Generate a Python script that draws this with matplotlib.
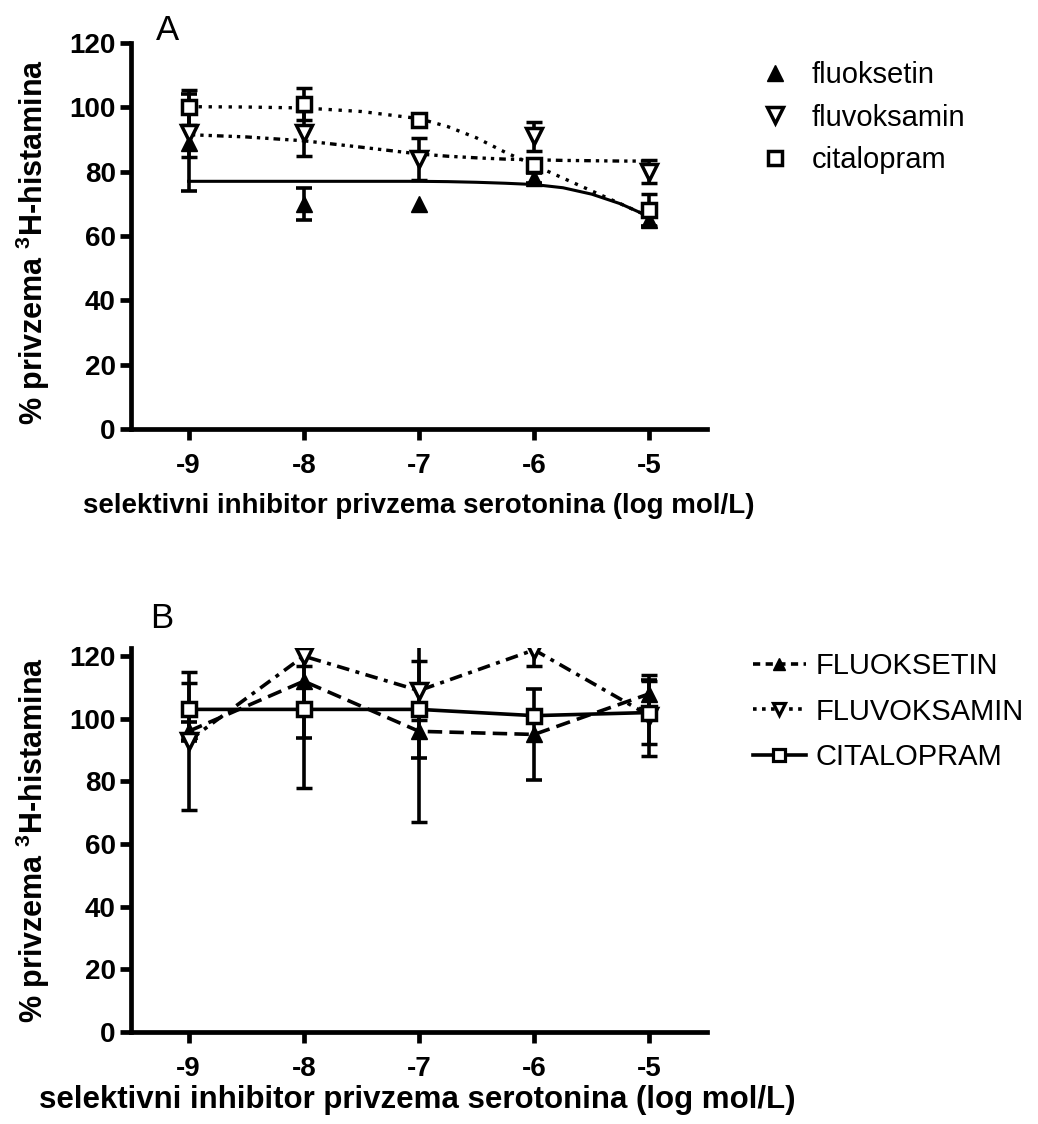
import matplotlib
matplotlib.use("Agg")
import matplotlib.pyplot as plt
from matplotlib.lines import Line2D

plt.rcParams["font.family"] = ["Liberation Sans", "DejaVu Sans"]
plt.rcParams["mathtext.fontset"] = "custom"
plt.rcParams["mathtext.rm"] = "Liberation Sans"
plt.rcParams["mathtext.bf"] = "Liberation Sans:bold"

nan = float("nan")

# log koncentracija
doses = [-9, -8, -7, -6, -5]

# Panel A - tocke (srednja vrijednost, SEM); nan = greska manja od simbola
fluoksetin_a = [89, 70, 70, 78, 65]
fluoksetin_a_err = [15, 5, nan, 1.5, 2]
fluvoksamin_a = [92, 92, 84, 91, 80]
fluvoksamin_a_err = [7.5, 7, 6.5, 4.5, 3.5]
citalopram_a = [100, 101, 96, 82, 68]
citalopram_a_err = [5.5, 5, nan, 2, 5]

# Panel A - krivulje (ocitane sa slike)
fit_x = [-9, -8.5, -8, -7.5, -7, -6.75, -6.5, -6.25, -6, -5.75, -5.5, -5.25, -5]
fit_fluoksetin = [77, 77, 77, 77, 77, 76.9, 76.7, 76.4, 76, 75, 73, 70, 66]
fit_fluvoksamin = [91.5, 90.8, 89.6, 87.6, 85.5, 84.8, 84.3, 83.9, 83.7, 83.5, 83.4, 83.3, 83.3]
fit_citalopram = [100.2, 100.1, 99.8, 98.7, 96.5, 94, 90.5, 86, 82, 78, 74, 70, 66]

# Panel B
fluoksetin_b = [96, 112, 96, 95, 108]
fluoksetin_b_err = [3, 18, 8.5, 14.5, 4.5]
fluvoksamin_b = [93, 120, 109, 122, 101]
fluvoksamin_b_err = [22, 3, 9.5, 5, 13]
citalopram_b = [103, 103, 103, 101, 102]
citalopram_b_err = [8.5, 25, 36, 1.5, 10]

labels_a = ["fluoksetin", "fluvoksamin", "citalopram"]
labels_b = ["FLUOKSETIN", "FLUVOKSAMIN", "CITALOPRAM"]
xlabel = "selektivni inhibitor privzema serotonina (log mol/L)"
ylabel = "% privzema $^{\\mathbf{3}}$H-histamina"

W, H = 1038, 1124
fig = plt.figure(figsize=(W / 100, H / 100), dpi=100)

ax_a = fig.add_axes([131 / W, 1 - 429 / H, 576 / W, 386 / H])
ax_b = fig.add_axes([131 / W, 1 - 1032 / H, 576 / W, 384 / H])

SPINE = 3.4
LW = 2.6
eb = dict(ecolor="black", elinewidth=LW, capsize=6, capthick=LW, linestyle="none", zorder=3)


def style_axis(ax, ytop):
    ax.set_xlim(-9.5, -4.5)
    ax.set_ylim(0, ytop)
    ax.set_xticks(doses)
    ax.set_xticklabels([str(d) for d in doses])
    ax.set_yticks([0, 20, 40, 60, 80, 100, 120])
    for s in ["top", "right"]:
        ax.spines[s].set_visible(False)
    for s in ["left", "bottom"]:
        ax.spines[s].set_linewidth(SPINE)
    ax.tick_params(width=SPINE, length=8, labelsize=20)
    ax.tick_params(axis="x", pad=9)
    ax.tick_params(axis="y", pad=3)
    for t in ax.get_xticklabels() + ax.get_yticklabels():
        t.set_fontweight("bold")


# ---- A ----
ax_a.plot(fit_x, fit_fluoksetin, color="black", lw=2.2, zorder=2)
ax_a.plot(fit_x, fit_fluvoksamin, color="black", lw=2.4, dashes=(2, 1.5, 1, 1.5, 1, 1.5), zorder=2)
ax_a.plot(fit_x, fit_citalopram, color="black", lw=2.4, dashes=(1, 2), zorder=2)

ax_a.errorbar(doses, fluoksetin_a, yerr=fluoksetin_a_err, marker="^", ms=11,
              mfc="black", mec="black", **eb)
ax_a.errorbar(doses, fluvoksamin_a, yerr=fluvoksamin_a_err, marker="v", ms=11,
              mfc="white", mec="black", mew=2.5, **eb)
ax_a.errorbar(doses, citalopram_a, yerr=citalopram_a_err, marker="s", ms=10,
              mfc="white", mec="black", mew=2.5, **eb)
style_axis(ax_a, 120)

handles_a = [
    Line2D([], [], ls="none", marker="^", ms=11, mfc="black", mec="black"),
    Line2D([], [], ls="none", marker="v", ms=11, mfc="white", mec="black", mew=2.5),
    Line2D([], [], ls="none", marker="s", ms=10, mfc="white", mec="black", mew=2.5),
]
fig.legend(handles_a, labels_a, loc="upper left", bbox_to_anchor=(753 / W, 1 - 61 / H),
           frameon=False, fontsize=21, handlelength=1.5, handletextpad=0.5,
           labelspacing=0.5, borderpad=0, borderaxespad=0)

# ---- B ----
ax_b.errorbar(doses, fluoksetin_b, yerr=fluoksetin_b_err, marker="^", ms=11,
              mfc="black", mec="black", **eb)
ax_b.errorbar(doses, fluvoksamin_b, yerr=fluvoksamin_b_err, marker="v", ms=11,
              mfc="white", mec="black", mew=2.5, **eb)
ax_b.errorbar(doses, citalopram_b, yerr=citalopram_b_err, marker="s", ms=10,
              mfc="white", mec="black", mew=2.5, **eb)
ax_b.plot(doses, fluoksetin_b, color="black", lw=LW, dashes=(4, 2), zorder=2)
ax_b.plot(doses, fluvoksamin_b, color="black", lw=LW, dashes=(3.5, 1.8, 1.1, 1.8), zorder=2)
ax_b.plot(doses, citalopram_b, color="black", lw=LW, zorder=2)
style_axis(ax_b, 122.6)

handles_b = [
    Line2D([], [], color="black", lw=LW, dashes=(2, 1.5), marker="^", ms=9, mfc="black"),
    Line2D([], [], color="black", lw=LW, dashes=(1, 1.5), marker="v", ms=9, mfc="white", mew=2.3),
    Line2D([], [], color="black", lw=LW, marker="s", ms=8, mfc="white", mew=2.3),
]
fig.legend(handles_b, labels_b, loc="upper left", bbox_to_anchor=(753 / W, 1 - 652 / H),
           frameon=False, fontsize=21, handlelength=1.8, handletextpad=0.35,
           labelspacing=0.6, borderpad=0, borderaxespad=0)

# ---- tekstovi ----
fig.text(167 / W, 1 - 30 / H, "A", fontsize=25, ha="center", va="center")
fig.text(162 / W, 1 - 618 / H, "B", fontsize=25, ha="center", va="center")
fig.text(419 / W, 1 - 506 / H, xlabel, fontsize=20, fontweight="bold", ha="center", va="center")
fig.text(417 / W, 1 - 1100 / H, xlabel, fontsize=22.5, fontweight="bold", ha="center", va="center")
fig.text(33 / W, 1 - 242 / H, ylabel, fontsize=22, fontweight="bold", rotation=90,
         ha="center", va="center")
fig.text(33 / W, 1 - 840 / H, ylabel, fontsize=22, fontweight="bold", rotation=90,
         ha="center", va="center")

fig.savefig("out.png", dpi=100)
